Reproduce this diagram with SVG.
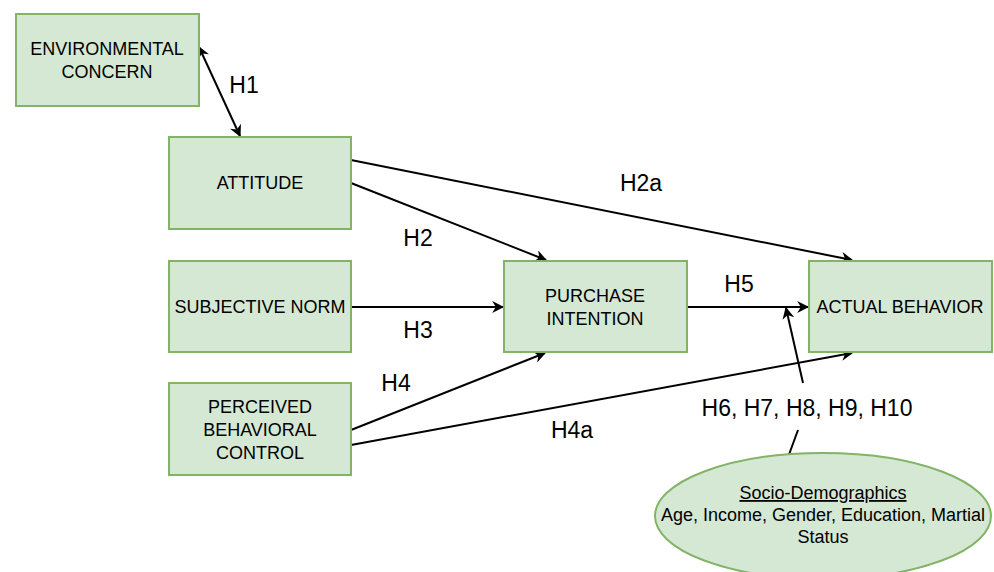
<svg xmlns="http://www.w3.org/2000/svg" width="994" height="572" viewBox="0 0 994 572">
<defs>
<marker id="ah" viewBox="0 0 10 10" refX="9" refY="5" markerWidth="12" markerHeight="12" markerUnits="userSpaceOnUse" orient="auto-start-reverse">
<path d="M0,0 L10,5 L0,10 L3,5 Z" fill="#000"/>
</marker>
<style>
.box{fill:#d5e8d4;stroke:#82b366;stroke-width:2}
.t{font-family:"Liberation Sans",Arial,sans-serif;font-size:18px;fill:#000;text-anchor:middle}
.l{font-family:"Liberation Sans",Arial,sans-serif;font-size:23px;fill:#000;text-anchor:middle}
.e{stroke:#000;stroke-width:2;fill:none}
</style>
</defs>
<rect width="994" height="572" fill="#fff"/>
<g id="edges">
<line class="e" x1="199" y1="47" x2="240" y2="136" marker-start="url(#ah)" marker-end="url(#ah)"/>
<line class="e" x1="351" y1="160" x2="852" y2="260" marker-end="url(#ah)"/>
<line class="e" x1="351" y1="183" x2="546" y2="260" marker-end="url(#ah)"/>
<line class="e" x1="351" y1="307" x2="503" y2="307" marker-end="url(#ah)"/>
<line class="e" x1="687" y1="307" x2="808" y2="307" marker-end="url(#ah)"/>
<line class="e" x1="351" y1="430" x2="545" y2="353" marker-end="url(#ah)"/>
<line class="e" x1="351" y1="445" x2="852" y2="353" marker-end="url(#ah)"/>
<line class="e" x1="803" y1="383" x2="786" y2="308" marker-end="url(#ah)"/>
<line class="e" x1="798" y1="430" x2="787" y2="460"/>
<text class="l" x="244" y="93">H1</text>
<text class="l" x="641" y="191">H2a</text>
<text class="l" x="418" y="246">H2</text>
<text class="l" x="418" y="338">H3</text>
<text class="l" x="396" y="391">H4</text>
<text class="l" x="572" y="438">H4a</text>
<text class="l" x="739" y="292">H5</text>
<text class="l" x="807" y="416">H6, H7, H8, H9, H10</text>
</g>
<g id="env"><rect class="box" x="16" y="14" width="183" height="92"/><text class="t" x="107" y="55">ENVIRONMENTAL</text><text class="t" x="107" y="78">CONCERN</text></g>
<g id="att"><rect class="box" x="169" y="137" width="182" height="92"/><text class="t" x="260" y="189">ATTITUDE</text></g>
<g id="sn"><rect class="box" x="169" y="261" width="182" height="91"/><text class="t" x="260" y="313">SUBJECTIVE NORM</text></g>
<g id="pbc"><rect class="box" x="169" y="383" width="182" height="92"/><text class="t" x="260" y="413">PERCEIVED</text><text class="t" x="260" y="436">BEHAVIORAL</text><text class="t" x="260" y="459">CONTROL</text></g>
<g id="pi"><rect class="box" x="504" y="261" width="183" height="91"/><text class="t" x="595" y="302">PURCHASE</text><text class="t" x="595" y="325">INTENTION</text></g>
<g id="ab"><rect class="box" x="809" y="261" width="183" height="91"/><text class="t" x="900" y="313">ACTUAL BEHAVIOR</text></g>
<g id="socio"><ellipse class="box" cx="823" cy="516" rx="168" ry="63"/><text class="t" x="823" y="499" text-decoration="underline">Socio-Demographics</text><text class="t" x="823" y="521">Age, Income, Gender, Education, Martial</text><text class="t" x="823" y="543">Status</text></g>
</svg>
